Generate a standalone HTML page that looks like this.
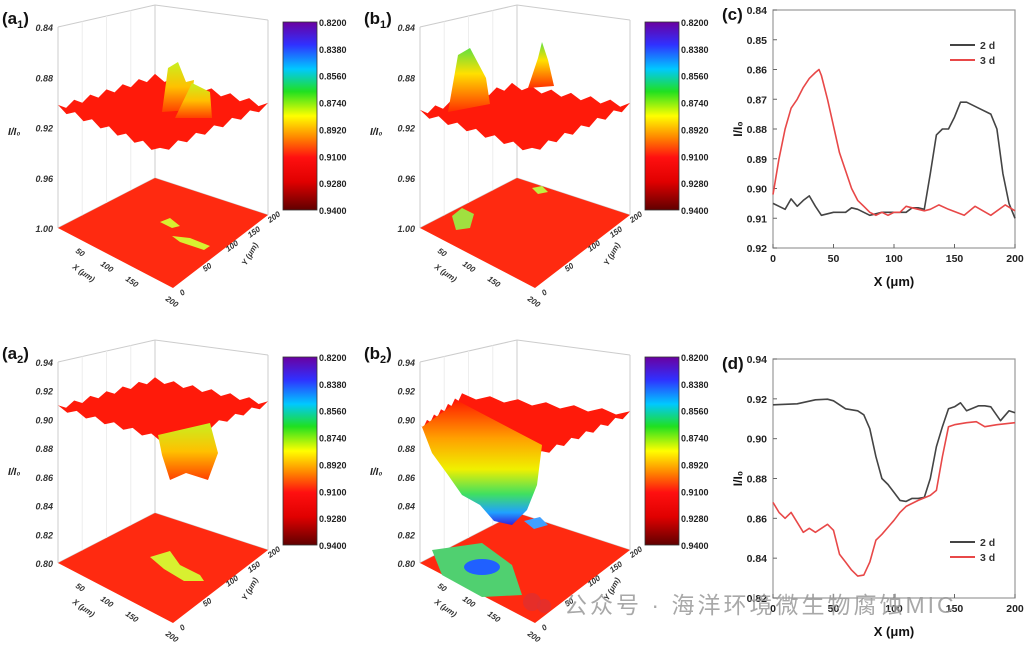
<!DOCTYPE html>
<html><head><meta charset="utf-8"><style>
body{margin:0;background:#fff;}
svg{display:block;font-family:"Liberation Sans","Noto Sans CJK SC",sans-serif;}
</style></head><body>
<svg id="fig" width="1026" height="645" viewBox="0 0 1026 645">
<defs>
<linearGradient id="cbar" x1="0" y1="0" x2="0" y2="1">
<stop offset="0" stop-color="#6a00a0"/><stop offset="0.12" stop-color="#3030ff"/><stop offset="0.25" stop-color="#00c8ff"/><stop offset="0.37" stop-color="#20e020"/><stop offset="0.5" stop-color="#ffff00"/><stop offset="0.62" stop-color="#ff8000"/><stop offset="0.72" stop-color="#ff1010"/><stop offset="0.85" stop-color="#e00000"/><stop offset="1" stop-color="#600000"/>
</linearGradient>
<linearGradient id="ybump" x1="0" y1="0" x2="0" y2="1"><stop offset="0" stop-color="#c8f020"/><stop offset="0.5" stop-color="#ffc000"/><stop offset="1" stop-color="#ff4000"/></linearGradient>
<linearGradient id="gbump" x1="0" y1="0" x2="0" y2="1"><stop offset="0" stop-color="#60e040"/><stop offset="0.4" stop-color="#ffe000"/><stop offset="1" stop-color="#ff3000"/></linearGradient>
<linearGradient id="pit" x1="0" y1="0" x2="0" y2="1"><stop offset="0" stop-color="#ff2000"/><stop offset="0.3" stop-color="#ffa000"/><stop offset="0.55" stop-color="#f0f000"/><stop offset="0.75" stop-color="#40e060"/><stop offset="0.9" stop-color="#20a0ff"/><stop offset="1" stop-color="#3020e0"/></linearGradient>
</defs>
<g id="panels"></g>
<g id="chart-c"></g>
<g id="chart-d"></g>
<g>
<circle cx="532" cy="602" r="9" fill="#e03030" opacity="0.8"/><circle cx="544" cy="606" r="7" fill="#e03030" opacity="0.8"/>
<text x="564" y="613" font-size="23" letter-spacing="3" fill="#9a9a9a" opacity="0.85">公众号 · 海洋环境微生物腐蚀MIC</text>
</g>
</svg>
<script>
// ---------- line chart data ----------
const cX2d=[0,5,10,15,20,25,30,35,40,50,60,65,70,80,90,100,110,115,120,125,130,135,140,145,150,155,160,170,180,185,190,195,200];
const cY2d=[.905,.906,.907,.9035,.906,.904,.9025,.906,.909,.908,.908,.9065,.907,.909,.908,.908,.908,.9065,.9065,.907,.895,.882,.880,.880,.876,.871,.871,.873,.875,.880,.895,.905,.910];
const cX3d=[0,5,10,15,20,25,30,35,38,40,45,50,55,60,65,70,75,80,85,90,95,100,105,110,115,120,125,130,137,145,158,167,180,192,200];
const cY3d=[.902,.890,.880,.873,.870,.866,.863,.861,.860,.862,.870,.879,.888,.894,.900,.904,.906,.908,.909,.908,.909,.908,.908,.906,.9065,.907,.9075,.907,.9055,.907,.909,.906,.909,.9055,.9075];
const cYTicks=[0.84,0.85,0.86,0.87,0.88,0.89,0.90,0.91,0.92];
const dX2d=[0,20,35,45,50,60,70,75,80,85,90,95,100,105,110,115,120,125,130,135,140,145,150,155,160,170,175,180,188,195,200];
const dY2d=[.917,.9175,.9195,.9198,.919,.915,.914,.912,.905,.891,.880,.877,.873,.869,.8685,.870,.870,.8705,.880,.896,.906,.915,.916,.918,.914,.9165,.9165,.916,.909,.914,.913];
const dX3d=[0,5,10,15,25,30,35,45,50,55,60,65,70,75,80,85,90,100,105,110,120,130,135,140,145,150,160,168,175,185,200];
const dY3d=[.868,.863,.860,.863,.853,.855,.853,.857,.854,.842,.838,.834,.831,.8315,.838,.849,.852,.859,.863,.866,.869,.8715,.874,.891,.906,.907,.908,.9085,.906,.907,.908];
const dYTicks=[0.82,0.84,0.86,0.88,0.90,0.92,0.94];
const xTicks=[0,50,100,150,200];
const cbLabels=["0.8200","0.8380","0.8560","0.8740","0.8920","0.9100","0.9280","0.9400"];

const NS="http://www.w3.org/2000/svg";
function mk(tag,attrs,parent,txt){const e=document.createElementNS(NS,tag);for(const k in attrs)e.setAttribute(k,attrs[k]);if(txt!==undefined)e.textContent=txt;parent.appendChild(e);return e;}

function lineChart(g,top,bot,yMin,yMax,inverted,ticks,series,label,legendY){
  const L=773,R=1015;
  const xs=v=>L+(v/200)*(R-L);
  const ys=v=>inverted? top+(v-yMin)/(yMax-yMin)*(bot-top) : bot-(v-yMin)/(yMax-yMin)*(bot-top);
  const fr=mk('rect',{x:L,y:top,width:R-L,height:bot-top,fill:'none',stroke:'#999','stroke-width':1.2},g);
  
  ticks.forEach(t=>{
    const y=ys(t);
    const tl=mk('line',{x1:L,x2:L+4,y1:y,y2:y,stroke:'#666'},g);
    
    const tx=mk('text',{x:L-6,y:y+4,'font-size':10.5,'font-weight':'bold','text-anchor':'end',fill:'#222'},g,t.toFixed(2));
    
  });
  xTicks.forEach(t=>{
    const x=xs(t);
    const tl=mk('line',{x1:x,x2:x,y1:bot,y2:bot-4,stroke:'#666'},g);
    
    const tx=mk('text',{x:x,y:bot+14,'font-size':10.5,'font-weight':'bold','text-anchor':'middle',fill:'#222'},g,String(t));
    
  });
  const xl=mk('text',{x:894,y:bot+38,'font-size':13,'font-weight':'bold','text-anchor':'middle',fill:'#111'},g,'X (μm)');
  
  const yl=mk('text',{x:0,y:0,'font-size':12,'font-weight':'bold','text-anchor':'middle',fill:'#111',transform:`translate(742,${(top+bot)/2}) rotate(-90)`},g,'I/I₀');
  
  const pl=mk('text',{x:722,y:top+10,'font-size':17,'font-weight':'bold',fill:'#111'},g,label);
  
  series.forEach((s,i)=>{
    const d=s.x.map((v,j)=>(j?'L':'M')+xs(v).toFixed(1)+','+ys(s.y[j]).toFixed(1)).join('');
    const p=mk('path',{d:d,fill:'none',stroke:s.c,'stroke-width':1.6,'stroke-linejoin':'round'},g);
    
    const ly=legendY+i*15;
    const ll=mk('line',{x1:950,x2:975,y1:ly,y2:ly,stroke:s.c,'stroke-width':2},g);
    
    const lt=mk('text',{x:980,y:ly+4,'font-size':10.5,'font-weight':'bold',fill:'#333'},g,s.n);
    
  });
}
lineChart(document.getElementById('chart-c'),10,248,0.84,0.92,true,cYTicks,
 [{x:cX2d,y:cY2d,c:'#444',n:'2 d'},{x:cX3d,y:cY3d,c:'#e84848',n:'3 d'}],'(c)',45);
lineChart(document.getElementById('chart-d'),359,598,0.82,0.94,false,dYTicks,
 [{x:dX2d,y:dY2d,c:'#444',n:'2 d'},{x:dX3d,y:dY3d,c:'#e84848',n:'3 d'}],'(d)',542);

// ---------- 3D panels ----------
const panels=[
 {ox:0,oy:0,lab:'a',sub:'1',z:["0.84","0.88","0.92","0.96","1.00"],type:'a1'},
 {ox:362,oy:0,lab:'b',sub:'1',z:["0.84","0.88","0.92","0.96","1.00"],type:'b1'},
 {ox:0,oy:335,lab:'a',sub:'2',z:["0.94","0.92","0.90","0.88","0.86","0.84","0.82","0.80"],type:'a2'},
 {ox:362,oy:335,lab:'b',sub:'2',z:["0.94","0.92","0.90","0.88","0.86","0.84","0.82","0.80"],type:'b2'}
];
function jag(pts,amp){
  let out=[];for(let i=0;i<pts.length;i++){const a=pts[i],b=pts[(i+1)%pts.length];
   for(let k=0;k<12;k++){const t=k/12;out.push([a[0]+(b[0]-a[0])*t,a[1]+(b[1]-a[1])*t+((k%2)?amp:-amp*0.6)]);}}
  return out.map(p=>p[0].toFixed(1)+','+p[1].toFixed(1)).join(' ');
}
const pg=document.getElementById('panels');
panels.forEach(P=>{
  const g=mk('g',{transform:`translate(${P.ox},${P.oy})`},pg);
  
  const box=[[58,27,58,228],[155,5,155,178],[268,20,268,215],[58,228,155,178],[155,178,268,215],[58,27,155,5],[155,5,268,20]];
  box.forEach(b=>{const l=mk('line',{x1:b[0],y1:b[1],x2:b[2],y2:b[3],stroke:'#ccc','stroke-width':1},g);});
  for(let i=1;i<4;i++){const x=58+97*i/4;const gl=mk('line',{x1:x,y1:27-22*i/4,x2:x,y2:228-50*i/4,stroke:'#eee'},g);}
  const fl=mk('polygon',{points:'58,228 155,178 268,215 173,288',fill:'#ff2a10'},g);
  
  P.z.forEach((t,i)=>{const y=27+i*(228-27)/(P.z.length-1);
    const tx=mk('text',{x:53,y:y+4,'font-size':9,'font-weight':'bold','font-style':'italic','text-anchor':'end',fill:'#333'},g,t);
    });
  const zl=mk('text',{x:8,y:(P.z.length>5?140:135),'font-size':10,'font-weight':'bold','font-style':'italic',fill:'#222'},g,'I/I₀');
  
  [["50",75,252],["100",100,265],["150",125,280],["200",165,300]].forEach(a=>{const t=mk('text',{x:a[1],y:a[2],'font-size':8,'font-weight':'bold','font-style':'italic',fill:'#333',transform:`rotate(35 ${a[1]} ${a[2]})`},g,a[0]);});
  const xt=mk('text',{x:72,y:268,'font-size':8,'font-weight':'bold','font-style':'italic',fill:'#333',transform:'rotate(35 72 268)'},g,'X (μm)');
  [["0",182,296],["50",205,272],["100",228,252],["150",250,238],["200",270,223]].forEach(a=>{const t=mk('text',{x:a[1],y:a[2],'font-size':8,'font-weight':'bold','font-style':'italic',fill:'#333',transform:`rotate(-35 ${a[1]} ${a[2]})`},g,a[0]);});
  const yt=mk('text',{x:246,y:266,'font-size':8,'font-weight':'bold','font-style':'italic',fill:'#333',transform:'rotate(-60 246 266)'},g,'Y (μm)');
  let surf;
  if(P.type==='a1'){
    surf=mk('polygon',{points:jag([[58,107],[155,76],[268,105],[160,150]],3.5),fill:'#ff1a0a'},g);
    const p1=mk('polygon',{points:'162,112 168,68 178,62 186,82 194,80 190,110',fill:'url(#ybump)'},g);
    const p2=mk('polygon',{points:'175,118 192,83 210,92 212,118',fill:'url(#ybump)'},g);
    const f1=mk('polygon',{points:'160,222 170,218 180,226 172,228',fill:'#d8f030'},g);
    const f2=mk('polygon',{points:'172,236 190,238 210,246 204,250 180,242',fill:'#d8f030'},g);
  } else if(P.type==='b1'){
    surf=mk('polygon',{points:jag([[58,112],[150,85],[268,105],[170,150]],3.5),fill:'#ff1a0a'},g);
    const p1=mk('polygon',{points:'86,112 96,55 108,48 124,78 128,104',fill:'url(#gbump)'},g);
    const p2=mk('polygon',{points:'166,88 176,58 180,42 186,60 192,86',fill:'url(#gbump)'},g);
    const f1=mk('polygon',{points:'90,216 100,208 112,214 108,228 94,230',fill:'#a0e040'},g);
    const f2=mk('polygon',{points:'170,188 180,186 186,192 176,194',fill:'#c0f040'},g);
  } else if(P.type==='a2'){
    surf=mk('polygon',{points:jag([[58,72],[155,44],[268,68],[170,106]],3),fill:'#ff1a0a'},g);
    const p1=mk('polygon',{points:'158,100 210,88 218,118 208,145 186,138 170,145 162,120',fill:'url(#ybump)'},g);
    const f1=mk('polygon',{points:'150,222 170,216 180,230 200,240 204,246 184,246 164,234',fill:'#d8f030'},g);
  } else {
    surf=mk('polygon',{points:jag([[58,92],[100,60],[268,78],[180,118]],3),fill:'#ff1a0a'},g);
    const p1=mk('polygon',{points:'60,92 96,66 180,110 175,150 165,175 150,190 132,186 118,170 100,160 86,140 70,118',fill:'url(#pit)'},g);
    const f1=mk('polygon',{points:'70,215 120,208 150,230 160,260 120,262 80,240',fill:'#50d070'},g);
    const f2=mk('ellipse',{cx:120,cy:232,rx:18,ry:8,fill:'#2060ff'},g);
    const f3=mk('polygon',{points:'162,186 178,182 186,190 172,194',fill:'#40a0ff'},g);
  }
  
  const cb=mk('rect',{x:283,y:22,width:34,height:188,fill:'url(#cbar)',stroke:'#333','stroke-width':0.8},g);
  
  cbLabels.forEach((t,i)=>{const y=22+i*188/(cbLabels.length-1);
    const tx=mk('text',{x:319,y:y+4,'font-size':9,'font-weight':'bold',fill:'#222'},g,t);
    });
  const lb=mk('text',{x:2,y:24,'font-size':17,'font-weight':'bold',fill:'#111'},g);
  
  lb.innerHTML=`(${P.lab}<tspan font-size="11" dy="4">${P.sub}</tspan><tspan dy="-4">)</tspan>`;
});
</script>
</body></html>
